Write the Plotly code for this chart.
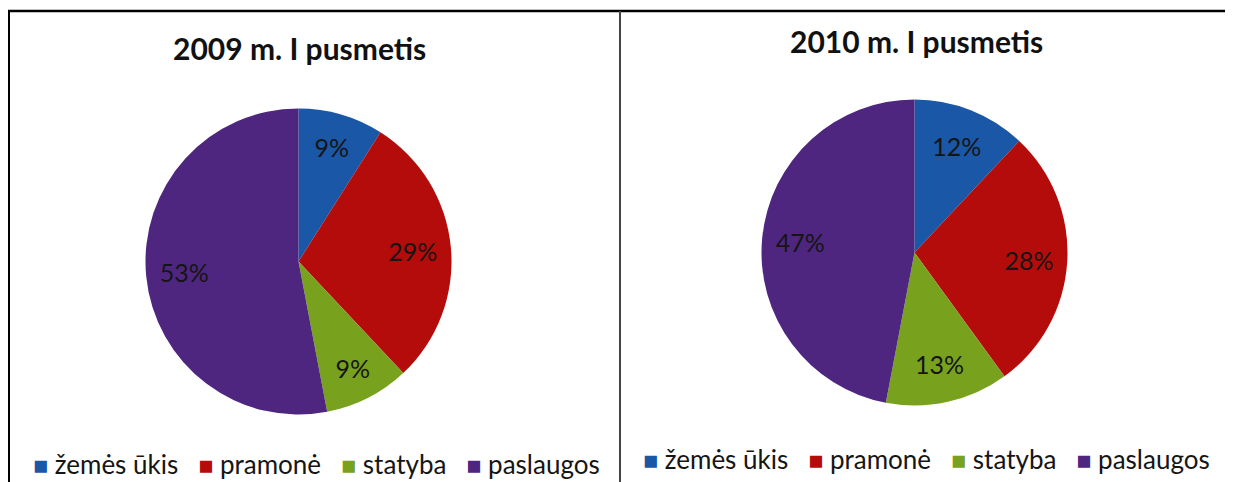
import plotly.graph_objects as go

# page is offset by the default 8px body margin, so the figure is 8px smaller
PAGE_W, PAGE_H = 1233, 482
OFF = 8
W, H = PAGE_W - OFF, PAGE_H - OFF

labels = ["žemės ūkis", "pramonė", "statyba", "paslaugos"]
values_2009 = [9, 29, 9, 53]
values_2010 = [12, 28, 13, 47]
titles = ["2009 m. I pusmetis", "2010 m. I pusmetis"]
colors = ["#1A57A6", "#B40C0A", "#78A11E", "#4E2680"]

FONT = "Lato, 'Open Sans', sans-serif"


def fx(v):
    return (v - OFF) / W


def fy(v):
    return 1 - (v - OFF) / H


def add_pie(values, cx, cy, r):
    dom = dict(x=[fx(cx - r), fx(cx + r)], y=[fy(cy + r), fy(cy - r)])
    # filled pie
    fig.add_trace(go.Pie(
        labels=labels, values=values, sort=False, direction="clockwise", rotation=0,
        marker=dict(colors=colors, line=dict(width=0)),
        textinfo="none", domain=dom, showlegend=False, hoverinfo="label+percent",
    ))
    # transparent ring carrying the percentage labels further out
    fig.add_trace(go.Pie(
        labels=labels, values=values, sort=False, direction="clockwise", rotation=0,
        hole=0.5,
        marker=dict(colors=["rgba(0,0,0,0)"] * len(values), line=dict(width=0)),
        texttemplate="%{value}%", textposition="inside", insidetextorientation="horizontal",
        textfont=dict(size=25, color="#151515", family=FONT),
        domain=dom, showlegend=False, hoverinfo="skip",
    ))


def legend_text():
    parts = []
    for lab, col in zip(labels, colors):
        parts.append(f"<span style='color:{col};font-size:25px'>■</span> {lab}")
    return "&nbsp;&nbsp;&nbsp;".join(parts)


fig = go.Figure()
add_pie(values_2009, 298.5, 261.5, 153)
add_pie(values_2010, 914.5, 252.5, 153)

fig.update_layout(
    width=W, height=H,
    margin=dict(l=0, r=0, t=0, b=0),
    paper_bgcolor="white", plot_bgcolor="white",
    showlegend=False,
    annotations=[
        dict(text="<b>" + titles[0] + "</b>", x=fx(299), y=fy(48), xref="paper", yref="paper",
             showarrow=False, font=dict(size=30, color="#111111", family=FONT),
             xanchor="center", yanchor="middle"),
        dict(text="<b>" + titles[1] + "</b>", x=fx(916), y=fy(41), xref="paper", yref="paper",
             showarrow=False, font=dict(size=30, color="#111111", family=FONT),
             xanchor="center", yanchor="middle"),
        dict(text=legend_text(), x=fx(316), y=fy(464), xref="paper", yref="paper",
             showarrow=False, font=dict(size=26, color="#151515", family=FONT),
             xanchor="center", yanchor="middle"),
        dict(text=legend_text(), x=fx(926), y=fy(459), xref="paper", yref="paper",
             showarrow=False, font=dict(size=26, color="#151515", family=FONT),
             xanchor="center", yanchor="middle"),
    ],
    shapes=[
        dict(type="line", xref="paper", yref="paper", x0=0, x1=1, y0=fy(11), y1=fy(11),
             line=dict(color="black", width=2.5)),
        dict(type="line", xref="paper", yref="paper", x0=fx(9), x1=fx(9), y0=fy(11), y1=0,
             line=dict(color="black", width=2)),
        dict(type="line", xref="paper", yref="paper", x0=fx(620), x1=fx(620), y0=fy(11), y1=0,
             line=dict(color="#444444", width=2)),
    ],
)

fig.write_html("out.html")
